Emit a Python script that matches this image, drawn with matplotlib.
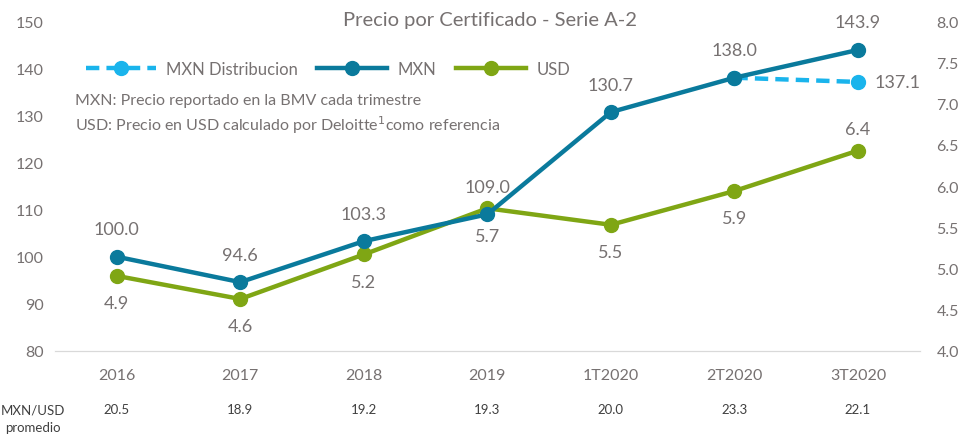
import matplotlib
matplotlib.use("Agg")
import matplotlib.pyplot as plt

categories = ["2016", "2017", "2018", "2019", "1T2020", "2T2020", "3T2020"]
mxn = [100.0, 94.6, 103.3, 109.0, 130.7, 138.0, 143.9]
usd = [4.91, 4.63, 5.17, 5.73, 5.53, 5.94, 6.43]
dist_x = ["2T2020", "3T2020"]
dist = [138.0, 137.1]
fx_avg = [20.5, 18.9, 19.2, 19.3, 20.0, 23.3, 22.1]

plt.rcParams['font.family'] = ['Lato', 'DejaVu Sans']
GRAY = "#767171"
C_MXN = "#0A7A9C"
C_USD = "#7FA614"
C_DIST = "#1AB4EC"

fig = plt.figure(figsize=(9.7, 4.35), dpi=100)
ax = fig.add_axes([0.0567, 0.191, 0.8915, 0.758])
ax2 = ax.twinx()

x = list(range(len(categories)))
dx = [categories.index(c) for c in dist_x]

ax2.plot(x, usd, color=C_USD, lw=3.2, marker='o', ms=10, label="USD", zorder=3)
ax.plot(dx, dist, color=C_DIST, lw=3.2, ls=(0, (3, 1.6)), marker='o', ms=10,
        label="MXN Distribucion", zorder=4)
ax.plot(x, mxn, color=C_MXN, lw=3.2, marker='o', ms=10, label="MXN", zorder=5)
ax.set_zorder(ax2.get_zorder() + 1)
ax.patch.set_visible(False)

ax.set_xlim(-0.5, 6.5)
ax.set_ylim(80, 150)
ax2.set_ylim(4.0, 8.0)
ax.set_yticks(range(80, 151, 10))
ax2.set_yticks([4.0 + 0.5 * i for i in range(9)])
ax2.set_yticklabels([f"{4.0 + 0.5 * i:.1f}" for i in range(9)])
ax.set_xticks(x)
ax.set_xticklabels(categories)

for a in (ax, ax2):
    for s in ("top", "left", "right"):
        a.spines[s].set_visible(False)
    a.spines["bottom"].set_color("#D9D9D9")
    a.tick_params(axis='both', length=0, labelcolor=GRAY, labelsize=11.5)
ax.tick_params(axis='y', pad=8)
ax2.tick_params(axis='y', pad=12)
ax.tick_params(axis='x', pad=12)

# data labels
for i, v in enumerate(mxn):
    ax.annotate(f"{v:.1f}", (i, v), xytext=(0, 14), textcoords="offset points",
                ha="center", va="bottom", color=GRAY, fontsize=13)
ax.annotate(f"{dist[1]:.1f}", (dx[1], dist[1]), xytext=(12, 0), textcoords="offset points",
            ha="left", va="center", color=GRAY, fontsize=13)
for i, v in enumerate(usd):
    if i == len(usd) - 1:
        ax2.annotate(f"{v:.1f}", (i, v), xytext=(0, 10), textcoords="offset points",
                     ha="center", va="bottom", color=GRAY, fontsize=13)
    else:
        ax2.annotate(f"{v:.1f}", (i, v), xytext=(0, -14), textcoords="offset points",
                     ha="center", va="top", color=GRAY, fontsize=13)

fig.text(0.505, 0.952, "Precio por Certificado - Serie A-2", ha="center", va="center",
         color=GRAY, fontsize=14.5)

h1, l1 = ax.get_legend_handles_labels()
h2, l2 = ax2.get_legend_handles_labels()
leg = ax.legend(h1 + h2, l1 + l2, loc="upper left", bbox_to_anchor=(0.018, 0.925),
                ncol=3, frameon=False, fontsize=12, labelcolor=GRAY,
                handlelength=4.2, columnspacing=1.2, handletextpad=0.6)

fig.text(0.077, 0.767, "MXN: Precio reportado en la BMV cada trimestre",
         color=GRAY, fontsize=11.5, va="center")
fig.text(0.077, 0.713, r"USD: Precio en USD calculado por Deloitte$^{1}$como referencia",
         color=GRAY, fontsize=11.5, va="center")

# MXN/USD promedio row
fig.text(0.034, 0.057, "MXN/USD", ha="center", va="center", color="#404040", fontsize=9.5)
fig.text(0.034, 0.015, "promedio", ha="center", va="center", color="#404040", fontsize=9.5)
for i, v in enumerate(fx_avg):
    ax.annotate(f"{v:.1f}", (i, 0), xycoords=("data", "figure fraction"),
                xytext=(0, 0.057 * 435), textcoords="offset pixels",
                ha="center", va="center", color="#404040", fontsize=9.5)

fig.savefig("out.png", dpi=100)
